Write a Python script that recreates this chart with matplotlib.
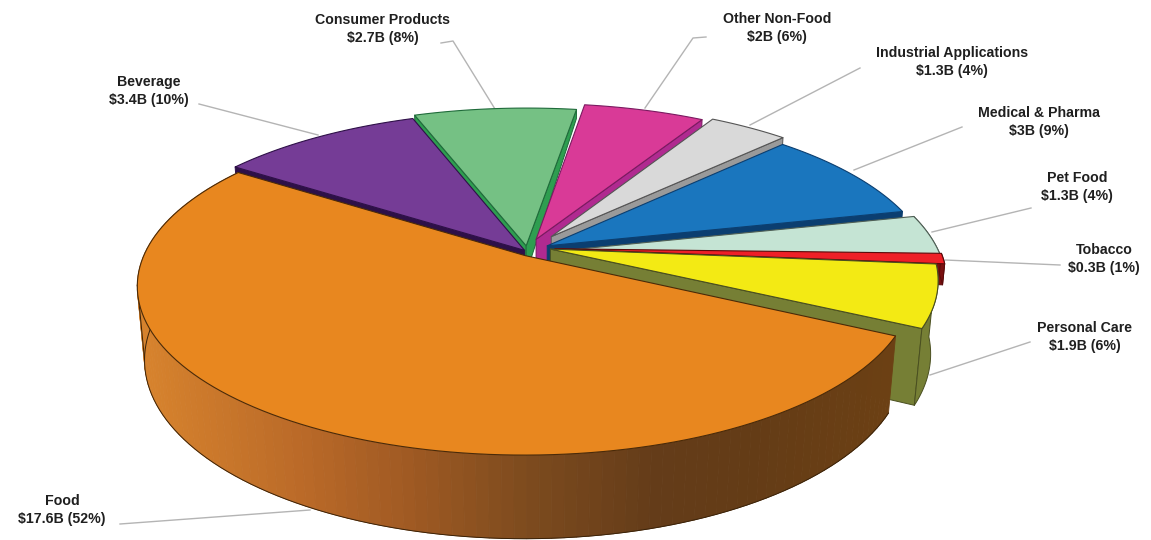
import numpy as np
import matplotlib
matplotlib.use("Agg")
from matplotlib import pyplot as plt
from matplotlib.collections import PolyCollection

categories = ["Food", "Beverage", "Consumer Products", "Other Non-Food",
              "Industrial Applications", "Medical & Pharma", "Pet Food",
              "Tobacco", "Personal Care"]
billions = ["17.6", "3.4", "2.7", "2", "1.3", "3", "1.3", "0.3", "1.9"]
percents = [52, 10, 8, 6, 4, 9, 4, 1, 6]

top_colors = ["#E8871F", "#753C96", "#75C184", "#D93A97", "#D9D9D9",
              "#1A76BE", "#C5E4D4", "#EE2027", "#F3EA14"]
side_colors = ["#8A5220", "#2E1048", "#2E9E50", "#B02A90", "#9A9A9A",
               "#0B3E70", "#6A7A70", "#7A1010", "#767F35"]
edge_colors = ["#4A2A08", "#2E1048", "#1F6B3A", "#7A1A60", "#555555",
               "#0B3E70", "#4F5F55", "#5A0A0A", "#4A4F20"]

# how far each slice is pulled out of the pie, in units of the radius
offsets = [(-0.012, -0.01), (-0.014, 0.022), (-0.01, 0.05), (0.016, 0.09), (0.056, 0.107),
           (0.045, 0.05), (0.06, 0.015), (0.065, 0.032), (0.053, 0.03)]
radii = [0.985, 1.0, 1.0, 1.0, 0.985, 0.99, 1.0, 1.0, 0.99]
# wall height at the rim and at the tip of each slice
depths = [0.2107, 0.03, 0.03, 0.2107, 0.2107, 0.2107, 0.02, 0.06, 0.2107]
tip_depths = [0.2107, 0.03, 0.08, 0.2107, 0.2107, 0.2107, 0.02, 0.06, 0.2107]

# label centre and leader line of each slice
label_pos = [(62, 510), (149, 91), (383, 29), (777, 28), (952, 62),
             (1039, 122), (1077, 187), (1104, 259), (1085, 337)]
leaders = [[(120, 524), (310, 510)],
           [(199, 104), (318, 135)],
           [(441, 43), (453, 41), (495, 109)],
           [(706, 37), (693, 38), (645, 108)],
           [(860, 68), (750, 125)],
           [(962, 127), (854, 170)],
           [(1031, 208), (932, 232)],
           [(1060, 265), (945, 260)],
           [(1030, 342), (930, 375)]]

# camera for the tilted pie
cx, cy = 530, 254
f, D = 1922, 4.97
s, c = 0.428, 0.904

# colour of the food slice wall along x
wall_x = [147, 300, 400, 520, 650, 750, 890]
wall_r = [214, 185, 160, 125, 100, 100, 108]
wall_g = [130, 105, 90, 75, 60, 60, 64]
wall_b = [45, 40, 35, 30, 25, 22, 20]


def project(X, Y, Z=0.0):
    depth = D + Y * c - Z * s
    return cx + f * X / depth, cy - f * (Y * s + Z * c) / depth


def rim(ox, oy, r, a0, a1, Z=0.0, n=120):
    t = np.radians(np.linspace(a0, a1, n))
    u, v = project(ox + r * np.cos(t), oy + r * np.sin(t), Z)
    return np.column_stack([u, v])


def draw_poly(ax, pts, face, edge, z, lw=0.7):
    ax.fill(pts[:, 0], pts[:, 1], facecolor=face, edgecolor=edge, linewidth=lw,
            joinstyle="round", zorder=z)


def draw_slice(ax, i, a0, a1, z):
    ox, oy = offsets[i]
    r = radii[i]
    top = rim(ox, oy, r, a0, a1)
    bot = rim(ox, oy, r, a0, a1, -depths[i])
    apex = np.array([project(ox, oy)])
    apex_bot = np.array([project(ox, oy, -tip_depths[i])])

    # cut faces, only those turned towards the camera
    if np.cos(np.radians(a1)) < 0:
        draw_poly(ax, np.vstack([apex, top[[-1]], bot[[-1]], apex_bot]), side_colors[i], edge_colors[i], z)
    if np.cos(np.radians(a0)) > 0:
        draw_poly(ax, np.vstack([apex, top[[0]], bot[[0]], apex_bot]), side_colors[i], edge_colors[i], z)

    # outer wall, the food slice gets a shaded one
    if categories[i] == "Food":
        quads, cols = [], []
        for j in range(len(top) - 1):
            quads.append([top[j], top[j + 1], bot[j + 1], bot[j]])
            x = top[j, 0]
            cols.append((np.interp(x, wall_x, wall_r) / 255,
                         np.interp(x, wall_x, wall_g) / 255,
                         np.interp(x, wall_x, wall_b) / 255))
        ax.add_collection(PolyCollection(quads, facecolors=cols, edgecolors=cols, linewidths=0.6, zorder=z))
        ax.plot(bot[:, 0], bot[:, 1], color="#3A2208", lw=0.7, zorder=z)
        # silhouette on the left where the wall turns away
        lt, lb = top[top[:, 0].argmin()], bot[bot[:, 0].argmin()]
        ax.plot([lt[0], lb[0]], [lt[1], lb[1]], color="#3A2208", lw=0.7, zorder=z)
    elif a0 < 0:
        draw_poly(ax, np.vstack([top, bot[::-1]]), side_colors[i], edge_colors[i], z)

    draw_poly(ax, np.vstack([apex, top]), top_colors[i], edge_colors[i], z + 0.5, 0.8)


fig = plt.figure(figsize=(11.51, 5.4), dpi=100)
ax = fig.add_axes([0, 0, 1, 1])
ax.set_xlim(0, 1151)
ax.set_ylim(540, 0)
ax.axis("off")

for pts in leaders:
    pts = np.array(pts)
    ax.plot(pts[:, 0], pts[:, 1], color="#B4B4B4", lw=1.0, zorder=0)

# slice angles run clockwise from the edge shared with the food slice
angles = {}
a = 146.0
for i in range(1, len(categories)):
    sweep = percents[i] * 3.6
    angles[i] = (a - sweep, a)
    a -= sweep
angles[0] = (146.0, 146.0 + percents[0] * 3.6)

# painted from the back of the pie to the front
for z, i in enumerate([2, 3, 1, 4, 5, 6, 7, 8, 0]):
    draw_slice(ax, i, *angles[i], z + 1)

for i, name in enumerate(categories):
    x, y = label_pos[i]
    label = f"{name}\n\\${billions[i]}B ({percents[i]}%)"
    ax.text(x, y, label, ha="center", va="center", fontsize=10.15, fontweight="bold",
            family="Liberation Sans", color="#1F1F1F", linespacing=1.37, zorder=20)

fig.savefig("out.png", dpi=100)
